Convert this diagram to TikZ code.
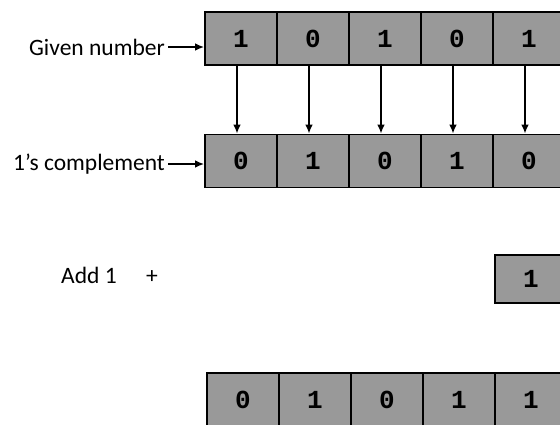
\documentclass[tikz,border=0pt]{standalone}
\usepackage{fontspec}
\setmainfont{Carlito}
\newfontfamily\bitfont{Liberation Mono}
\usepackage{tikz}
\usetikzlibrary{shapes,arrows,arrows.meta,positioning,calc}

\begin{document}
\begin{tikzpicture}[x=1pt, y=-1pt,
        bit/.style={rectangle, draw=black, line width=1.7pt, minimum width=72pt, minimum height=53pt, inner sep=0pt, fill=black!40, font=\fontsize{26}{28}\bitfont\bfseries},
        tag/.style={inner sep=3pt, font=\fontsize{23.5}{26}\selectfont},
        arrow/.style={-{Latex[length=9pt, width=7.5pt]}, line width=1.6pt}]

        \useasboundingbox (0,0) rectangle (560,424);

        % given number
        \node[bit] (g1) at (241,38.5) {1};
        \node[bit] (g2) at (313,38.5) {0};
        \node[bit] (g3) at (385,38.5) {1};
        \node[bit] (g4) at (457,38.5) {0};
        \node[bit] (g5) at (529,38.5) {1};

        % 1's complement
        \node[bit] (c1) at (241,161) {0};
        \node[bit] (c2) at (313,161) {1};
        \node[bit] (c3) at (385,161) {0};
        \node[bit] (c4) at (457,161) {1};
        \node[bit] (c5) at (529,161) {0};

        % add one
        \node[bit, minimum height=48pt] (one) at (531,279) {1};

        % result
        \node[bit] (r1) at (243,399.5) {0};
        \node[bit] (r2) at (315,399.5) {1};
        \node[bit] (r3) at (387,399.5) {0};
        \node[bit] (r4) at (459,399.5) {1};
        \node[bit] (r5) at (531,399.5) {1};

        \node[tag, anchor=east] (given) at (168,47) {Given number};
        \node[tag, anchor=east] (compl) at (168,164) {1’s complement};
        \node[tag, anchor=base west] (add) at (58,283) {Add 1};
        \node[tag, anchor=base] (plus) at (152,283) {+};

        \draw[arrow] (given.east) -- (given.east -| g1.west);
        \draw[arrow] (compl.east) -- (compl.east -| c1.west);

        \draw[arrow] ([xshift=-4pt]g1.south) -- ([xshift=-4pt]c1.north);
        \draw[arrow] ([xshift=-4pt]g2.south) -- ([xshift=-4pt]c2.north);
        \draw[arrow] ([xshift=-4pt]g3.south) -- ([xshift=-4pt]c3.north);
        \draw[arrow] ([xshift=-4pt]g4.south) -- ([xshift=-4pt]c4.north);
        \draw[arrow] ([xshift=-4pt]g5.south) -- ([xshift=-4pt]c5.north);

    \end{tikzpicture}
\end{document}
